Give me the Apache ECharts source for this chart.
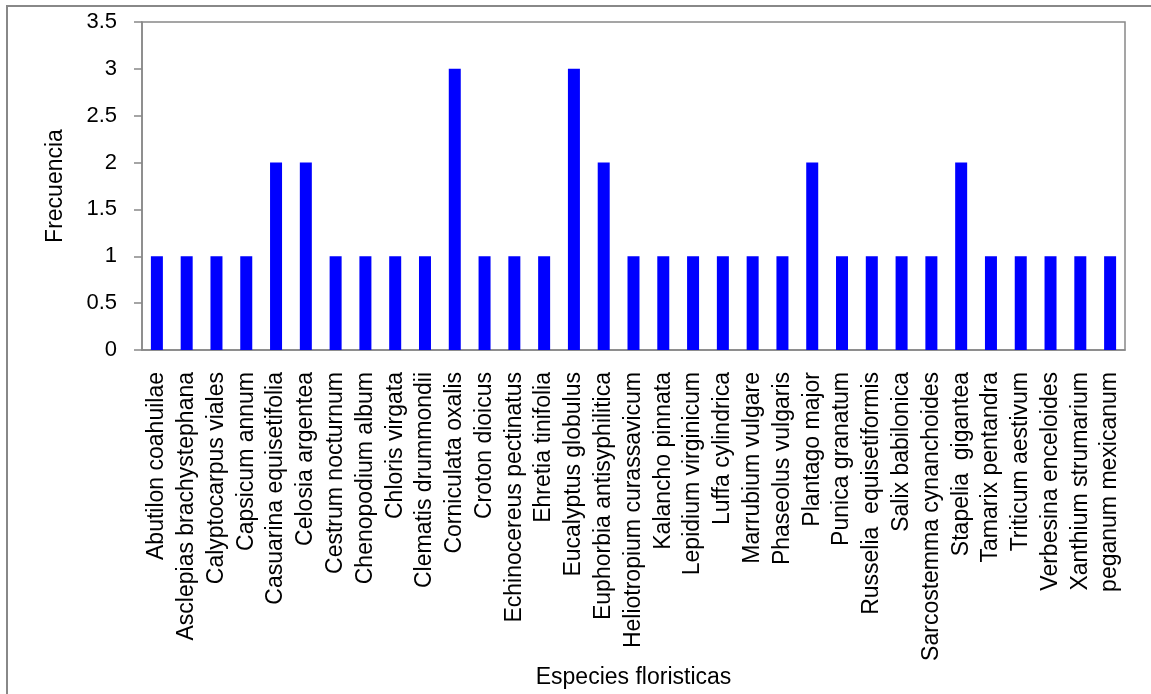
<!DOCTYPE html>
<html><head><meta charset="utf-8">
<script src="https://cdn.jsdelivr.net/npm/echarts@6/dist/echarts.min.js"></script>
<style>html,body{margin:0;padding:0;background:#fff}#c{width:1151px;height:694px}</style>
</head><body><div id="c"></div>
<script>
const categories = ["Abutilon coahuilae","Asclepias brachystephana","Calyptocarpus viales","Capsicum annum","Casuarina equisetifolia","Celosia argentea","Cestrum nocturnum","Chenopodium album","Chloris virgata","Clematis drummondii","Corniculata oxalis","Croton dioicus","Echinocereus pectinatus","Ehretia tinifolia","Eucalyptus globulus","Euphorbia antisyphilitica","Heliotropium curassavicum","Kalancho pinnata","Lepidium virginicum","Luffa cylindrica","Marrubium vulgare","Phaseolus vulgaris","Plantago major","Punica granatum","Russelia  equisetiformis","Salix babilonica","Sarcostemma cynanchoides","Stapelia  gigantea","Tamarix pentandra","Triticum aestivum","Verbesina enceloides","Xanthium strumarium","peganum mexicanum"];
const frecuencia = [1,1,1,1,2,2,1,1,1,1,3,1,1,1,3,2,1,1,1,1,1,1,2,1,1,1,1,2,1,1,1,1,1];
const yTicks = {min:0, max:3.5, interval:0.5};
const FONT = "'Liberation Sans Narrow','Arial Narrow','Liberation Sans',Arial,sans-serif";
const chart = echarts.init(document.getElementById('c'));
chart.setOption({
  animation:false,
  graphic:[{type:'rect',shape:{x:7,y:6,width:1300,height:800},style:{fill:'none',stroke:'#888',lineWidth:2},silent:true}],
  grid:{left:142,right:26,top:22,bottom:344,show:true,borderColor:'#888',borderWidth:1.5,backgroundColor:'transparent'},
  xAxis:{type:'category',data:categories,
    name:'Especies floristicas',nameLocation:'middle',nameGap:316,
    nameTextStyle:{fontFamily:FONT,fontSize:23,color:'#000'},
    axisLine:{lineStyle:{color:'#888',width:1.5}},axisTick:{show:false},
    axisLabel:{rotate:90,interval:0,margin:22,fontFamily:FONT,fontSize:23,color:'#000'}},
  yAxis:{type:'value',min:yTicks.min,max:yTicks.max,interval:yTicks.interval,
    name:'Frecuencia',nameLocation:'middle',nameGap:75,nameRotate:90,
    nameTextStyle:{fontFamily:FONT,fontSize:23,color:'#000'},
    axisLine:{show:true,lineStyle:{color:'#888',width:1.5}},
    axisTick:{show:true,length:8,lineStyle:{color:'#888',width:1.5}},
    splitLine:{show:false},
    axisLabel:{margin:25,fontFamily:FONT,fontSize:22,color:'#000'}},
  series:[{type:'bar',data:frecuencia,barWidth:12,itemStyle:{color:'#0000ff'}}]
});
</script></body></html>
